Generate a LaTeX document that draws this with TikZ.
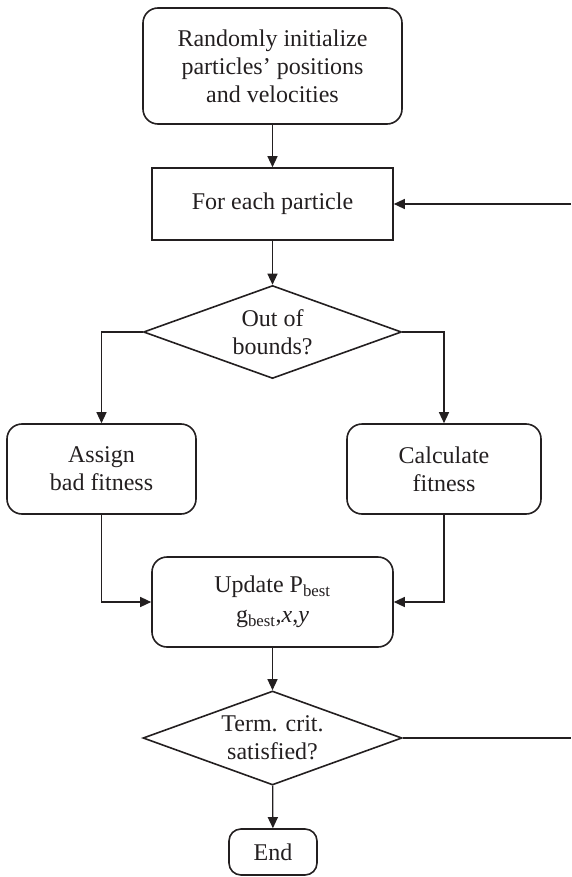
\documentclass[tikz,border=0pt]{standalone}
\usepackage{fontspec}
\setmainfont{Liberation Serif}
\usetikzlibrary{shapes.geometric, arrows.meta}
\definecolor{ink}{HTML}{231F20}
\tikzset{
    box/.style = {draw = ink, text = ink, line width = 1.6pt, align = center, inner sep = 0pt,
                  font = \fontsize{24}{28}\selectfont},
    rbox/.style = {box, rounded corners = 15pt},
    decision/.style = {box, diamond, aspect = 2.77},
    arr/.style = {draw = ink, line width = 1.3pt, -{Triangle[length = 11pt, width = 10pt]}},
    link/.style = {draw = ink, line width = 1.3pt}
}

\begin{document}
\begin{tikzpicture}[x = 1pt, y = -1pt]
    \useasboundingbox (0,0) rectangle (571,877);
    \node[rbox, minimum width = 259pt, minimum height = 116pt] (init) at (272.5,66)
        {Randomly initialize\\particles' positions\\and velocities};
    \node[box, minimum width = 241pt, minimum height = 72pt] (loop) at (272.5,204) {For each particle};
    \node[decision, minimum width = 258pt, minimum height = 93pt] (bounds) at (272.5,332) {Out of\\bounds?};
    \node[rbox, minimum width = 189pt, minimum height = 90pt] (assign) at (101.5,469) {Assign\\bad fitness};
    \node[rbox, minimum width = 194pt, minimum height = 90pt] (calc) at (444,469) {Calculate\\fitness};
    \node[rbox, minimum width = 241pt, minimum height = 90pt] (update) at (272.5,602)
        {Update P\textsubscript{best}\\[2pt]g\textsubscript{best},\textit{x},\textit{y}};
    \node[decision, minimum width = 259pt, minimum height = 94pt] (crit) at (272.5,738) {Term. crit.\\satisfied?};
    \node[rbox, rounded corners = 12pt, minimum width = 88pt, minimum height = 46pt] (stop) at (273,852) {End};
    \coordinate (back1) at (571,738);
    \coordinate (back2) at (571,204);

    \draw[arr] (init) -- (loop);
    \draw[arr] (loop) -- (bounds);
    \draw[arr] (bounds.west) -| (assign.north);
    \draw[arr] (bounds.east) -| (calc.north);
    \draw[arr] (assign.south) |- (update.west);
    \draw[arr] (calc.south) |- (update.east);
    \draw[arr] (update) -- (crit);
    \draw[arr] (crit) -- (stop);
    \draw[link] (crit.east) -- (back1);
    \draw[arr] (back2) -- (loop.east);
\end{tikzpicture}
\end{document}
